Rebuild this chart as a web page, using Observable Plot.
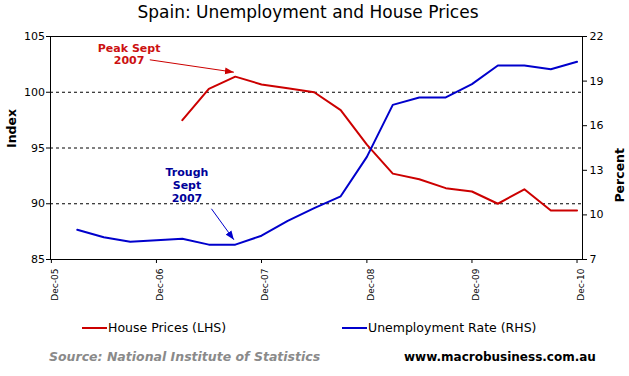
<!DOCTYPE html>
<html><head><meta charset="utf-8">
<script src="https://cdn.jsdelivr.net/npm/d3@7"></script>
<script src="https://cdn.jsdelivr.net/npm/@observablehq/plot@0.6"></script>
<style>
html,body{margin:0;padding:0;background:#fff;}
#wrap{position:relative;width:629px;height:376px;overflow:hidden;font-family:"DejaVu Sans",Verdana,sans-serif;background:#fff;}
#chart{position:absolute;left:0;top:0;}
.t{position:absolute;white-space:nowrap;}
</style></head><body>
<div id="wrap">
  <div id="chart"></div>
  <div class="t" id="title" style="left:0;top:2px;width:616px;text-align:center;font-size:17px;line-height:20px;color:#000;"></div>
  <div id="legend"></div>
  <div class="t" id="source" style="left:49px;top:349px;font-size:12.5px;line-height:16px;font-weight:bold;font-style:italic;color:#8a8a8a;"></div>
  <div class="t" id="site" style="left:404px;top:349px;font-size:12px;line-height:16px;font-weight:bold;color:#000;"></div>
</div>
<script>
// ---- data ----
const titleText = "Spain: Unemployment and House Prices";
const sourceText = "Source: National Institute of Statistics";
const siteText = "www.macrobusiness.com.au";
const quarters = ["2006-03-01","2006-06-01","2006-09-01","2006-12-01",
  "2007-03-01","2007-06-01","2007-09-01","2007-12-01",
  "2008-03-01","2008-06-01","2008-09-01","2008-12-01",
  "2009-03-01","2009-06-01","2009-09-01","2009-12-01",
  "2010-03-01","2010-06-01","2010-09-01","2010-12-01"];
const unemploymentRate = [9.0, 8.5, 8.2, 8.3, 8.4, 8.0, 8.0, 8.6, 9.6, 10.45, 11.25, 13.9,
  17.4, 17.9, 17.9, 18.8, 20.05, 20.05, 19.8, 20.3];
const housePrices = [null, null, null, null, 97.5, 100.3, 101.4, 100.7, 100.35, 100.0, 98.4, 95.3,
  92.7, 92.2, 91.4, 91.1, 90.0, 91.3, 89.4, 89.4];
const seriesNames = ["House Prices (LHS)", "Unemployment Rate (RHS)"];
const xTickDates = ["2005-12-01","2006-12-01","2007-12-01","2008-12-01","2009-12-01","2010-12-01"];
const xTickLabels = ["Dec-05","Dec-06","Dec-07","Dec-08","Dec-09","Dec-10"];
const xDomain = ["2005-11-28","2010-12-20"];
const leftDomain = [85, 105];
const leftTicks = [85, 90, 95, 100, 105];
const rightDomain = [7, 22];
const rightTicks = [7, 10, 13, 16, 19, 22];
const gridValues = [90, 95, 100];
const yTitles = ["Index", "Percent"];
const peakNote = {text: "Peak Sept\n2007", date: "2006-08-28", value: 103.42};
const troughNote = {text: "Trough\nSept\n2007", date: "2007-03-17", value: 91.70};
const peakArrow = {date1: "2006-11-08", value1: 102.91, date2: "2007-08-27", value2: 101.80};
const troughArrow = {date1: "2007-06-10", value1: 89.55, date2: "2007-08-27", value2: 86.77};

// ---- helpers ----
const toLeft = u => leftDomain[0] + (u - rightDomain[0]) * (leftDomain[1] - leftDomain[0]) / (rightDomain[1] - rightDomain[0]);
const toRight = v => rightDomain[0] + (v - leftDomain[0]) * (rightDomain[1] - rightDomain[0]) / (leftDomain[1] - leftDomain[0]);
const D = s => new Date(s);
const houseData = quarters.map((q, i) => ({date: D(q), value: housePrices[i]})).filter(d => d.value != null);
const unempData = quarters.map((q, i) => ({date: D(q), value: unemploymentRate[i]}));
const xTicks = xTickDates.map((d, i) => ({date: D(d), label: xTickLabels[i]}));

function solidArrow(color, context) {
  const m = d3.create("svg:marker")
    .attr("viewBox", "-9 -4 9 8")
    .attr("markerWidth", 9).attr("markerHeight", 8)
    .attr("markerUnits", "userSpaceOnUse")
    .attr("refX", 0).attr("refY", 0)
    .attr("orient", "auto");
  m.append("path").attr("d", "M-9,-3.5L0,0L-9,3.5Z").attr("fill", color).attr("stroke", "none");
  return m.node();
}

const red = "#cc0000", blue = "#0000cc";

const chart = Plot.plot({
  width: 629, height: 305,
  marginLeft: 50, marginRight: 47, marginTop: 36, marginBottom: 46,
  style: {fontFamily: "DejaVu Sans, Verdana, sans-serif", fontSize: "11px", color: "#000", background: "#fff"},
  x: {type: "utc", domain: xDomain.map(D)},
  y: {domain: leftDomain},
  marks: [
    Plot.ruleY(gridValues, {stroke: "#000", strokeWidth: 1, strokeDasharray: "3,3"}),
    Plot.frame({stroke: "#000", strokeWidth: 1}),
    Plot.axisY(leftTicks, {anchor: "left", tickSize: 4, tickPadding: 1.5, fontSize: 11, label: null}),
    Plot.axisY(rightTicks.map(toLeft), {anchor: "right", tickSize: 4, tickPadding: 3, fontSize: 11, label: null,
      tickFormat: d => String(Math.round(toRight(d)))}),
    Plot.axisX(xTicks.map(d => d.date), {anchor: "bottom", tickSize: 4, tickFormat: () => "", label: null}),
    Plot.text(xTicks, {x: "date", text: "label", frameAnchor: "bottom", rotate: -90, textAnchor: "end",
      lineAnchor: "middle", dy: 9, dx: 4, fontSize: 9, fill: "#000"}),
    Plot.text([yTitles[0]], {text: d => d, frameAnchor: "left", rotate: -90, dx: -39, fontWeight: "bold", fontSize: 12.5, fill: "#000"}),
    Plot.text([yTitles[1]], {text: d => d, frameAnchor: "right", rotate: -90, dx: 37, fontWeight: "bold", fontSize: 12.5, fill: "#000"}),
    Plot.line(houseData, {x: "date", y: "value", stroke: red, strokeWidth: 2}),
    Plot.line(unempData, {x: "date", y: d => toLeft(d.value), stroke: blue, strokeWidth: 2}),
    Plot.text([peakNote], {x: d => D(d.date), y: "value", text: "text", fill: "#cc1111", fontWeight: "bold", fontSize: 11, lineHeight: 1.15}),
    Plot.text([troughNote], {x: d => D(d.date), y: "value", text: "text", fill: "#000099", fontWeight: "bold", fontSize: 11, lineHeight: 1.21}),
    Plot.link([peakArrow], {x1: d => D(d.date1), y1: "value1", x2: d => D(d.date2), y2: "value2", stroke: red, strokeWidth: 1, markerEnd: solidArrow}),
    Plot.link([troughArrow], {x1: d => D(d.date1), y1: "value1", x2: d => D(d.date2), y2: "value2", stroke: blue, strokeWidth: 1, markerEnd: solidArrow})
  ]
});
document.getElementById("chart").appendChild(chart);

document.getElementById("title").textContent = titleText;
document.getElementById("source").textContent = sourceText;
document.getElementById("site").textContent = siteText;

// legend built from series names
const legend = document.getElementById("legend");
const legendColors = [red, blue];
const legendX = [82, 342];
seriesNames.forEach((name, i) => {
  const sw = document.createElement("div");
  sw.className = "t";
  sw.style.cssText = `left:${legendX[i]}px;top:327px;width:25px;height:2px;background:${legendColors[i]};`;
  legend.appendChild(sw);
  const tx = document.createElement("div");
  tx.className = "t";
  tx.style.cssText = `left:${legendX[i] + 26}px;top:320px;font-size:12.5px;line-height:16px;color:#000;`;
  tx.textContent = name;
  legend.appendChild(tx);
});
</script>
</body></html>
